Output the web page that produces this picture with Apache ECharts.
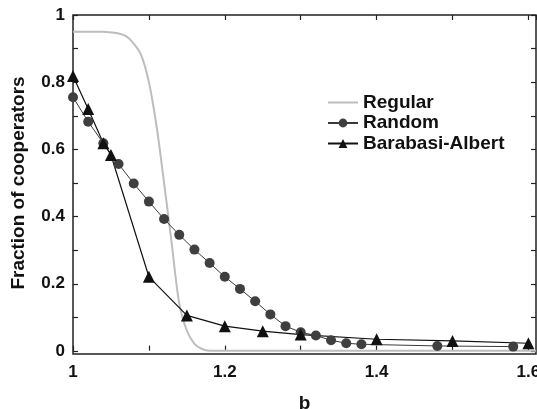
<!DOCTYPE html>
<html>
<head>
<meta charset="utf-8">
<script src="https://cdn.jsdelivr.net/npm/echarts@6/dist/echarts.min.js"></script>
<style>
  html, body { margin: 0; padding: 0; background: #fff; }
  #chart { width: 537px; height: 409px; }
</style>
</head>
<body>
<div id="chart"></div>
<script>
// Regular lattice (grey curve)
const regularB = [1.00, 1.01, 1.02, 1.03, 1.04, 1.05, 1.06, 1.07, 1.08, 1.09, 1.10, 1.11, 1.12, 1.13, 1.14, 1.15, 1.16, 1.17, 1.18, 1.20, 1.30, 1.40, 1.50, 1.61];
const regularY = [0.95, 0.95, 0.95, 0.95, 0.95, 0.948, 0.945, 0.937, 0.915, 0.88, 0.80, 0.67, 0.50, 0.32, 0.14, 0.06, 0.02, 0.005, 0, 0, 0, 0, 0, 0];

// Random graph (circles)
const randomB = [1.00, 1.02, 1.04, 1.06, 1.08, 1.10, 1.12, 1.14, 1.16, 1.18, 1.20, 1.22, 1.24, 1.26, 1.28, 1.30, 1.32, 1.34, 1.36, 1.38, 1.48, 1.58];
const randomY = [0.755, 0.682, 0.618, 0.556, 0.498, 0.444, 0.392, 0.345, 0.301, 0.261, 0.22, 0.184, 0.147, 0.108, 0.073, 0.055, 0.045, 0.031, 0.022, 0.019, 0.014, 0.012];

// Barabasi-Albert (triangles)
const baB = [1.00, 1.02, 1.04, 1.05, 1.10, 1.15, 1.20, 1.25, 1.30, 1.40, 1.50, 1.60];
const baY = [0.818, 0.72, 0.618, 0.583, 0.22, 0.105, 0.073, 0.058, 0.048, 0.034, 0.029, 0.022];

const xTickLabels = ["1", "1.2", "1.4", "1.6"];
const yTickLabels = ["0", "0.2", "0.4", "0.6", "0.8", "1"];

const pairs = (xs, ys) => xs.map((x, i) => [x, ys[i]]);
const fmt = (v) => String(+v.toFixed(2));
const font = "Liberation Sans, Arial, sans-serif";

const chart = echarts.init(document.getElementById("chart"));

const tickStyle = { show: true, inside: true, length: 5, lineStyle: { color: "#222", width: 1.2 } };
const labelFont = { fontFamily: font, fontWeight: "bold", fontSize: 17, color: "#111" };
const titleFont = { fontFamily: font, fontWeight: "bold", fontSize: 19, color: "#111" };

const option = {
  animation: false,
  grid: [
    // data grid: y runs from -0.01 so the zero line sits just above the frame
    { left: 73, right: 1, top: 15, bottom: 55, outerBoundsMode: "none", containLabel: false,
      show: true, borderColor: "#222", borderWidth: 1.5 },
    // tick grid for the y axes, 0..1
    { left: 73, right: 1, top: 15, bottom: 58, outerBoundsMode: "none", containLabel: false }
  ],
  legend: {
    orient: "vertical",
    left: 322,
    top: 88,
    itemWidth: 30,
    itemHeight: 11,
    itemGap: 1.5,
    textStyle: titleFont,
    data: [
      { name: "Regular", itemStyle: { opacity: 0 } },
      "Random",
      "Barabasi-Albert"
    ]
  },
  xAxis: [
    {
      type: "value", gridIndex: 0, min: 1, max: 1.61, interval: 0.1,
      axisLine: { show: false },
      axisTick: tickStyle,
      splitLine: { show: false },
      axisLabel: Object.assign({
        showMaxLabel: false,
        margin: 10,
        formatter: (v) => xTickLabels.includes(fmt(v)) ? fmt(v) : ""
      }, labelFont),
      name: "b", nameLocation: "middle", nameGap: 40,
      nameTextStyle: titleFont
    },
    {
      type: "value", gridIndex: 0, position: "top", min: 1, max: 1.61, interval: 0.1,
      axisLine: { show: false }, axisTick: tickStyle, splitLine: { show: false },
      axisLabel: { show: false }
    },
    {
      type: "value", gridIndex: 1, min: 1, max: 1.61, show: false
    }
  ],
  yAxis: [
    {
      type: "value", gridIndex: 0, min: -0.01, max: 1, show: false
    },
    {
      type: "value", gridIndex: 1, min: 0, max: 1, interval: 0.1,
      axisLine: { show: false }, axisTick: tickStyle, splitLine: { show: false },
      axisLabel: Object.assign({
        margin: 8,
        formatter: (v) => yTickLabels.includes(fmt(v)) ? fmt(v) : ""
      }, labelFont),
      name: "Fraction of cooperators", nameLocation: "middle", nameGap: 45,
      nameTextStyle: titleFont
    },
    {
      type: "value", gridIndex: 1, position: "right", min: 0, max: 1, interval: 0.1,
      axisLine: { show: false }, axisTick: tickStyle, splitLine: { show: false },
      axisLabel: { show: false }
    }
  ],
  series: [
    {
      name: "Regular", type: "line", xAxisIndex: 0, yAxisIndex: 0,
      data: pairs(regularB, regularY),
      symbol: "none", smooth: 0.3,
      lineStyle: { color: "#bdbdbd", width: 2 },
      itemStyle: { color: "#bdbdbd" }
    },
    {
      name: "Random", type: "line", xAxisIndex: 0, yAxisIndex: 0,
      data: pairs(randomB, randomY),
      symbol: "circle", symbolSize: 10,
      lineStyle: { color: "#3a3a3a", width: 1 },
      itemStyle: { color: "#3f3f3f" }
    },
    {
      name: "Barabasi-Albert", type: "line", xAxisIndex: 0, yAxisIndex: 0,
      data: pairs(baB, baY),
      symbol: "triangle", symbolSize: 12,
      lineStyle: { color: "#111", width: 1.2 },
      itemStyle: { color: "#111" }
    }
  ]
};

chart.setOption(option);
</script>
</body>
</html>
